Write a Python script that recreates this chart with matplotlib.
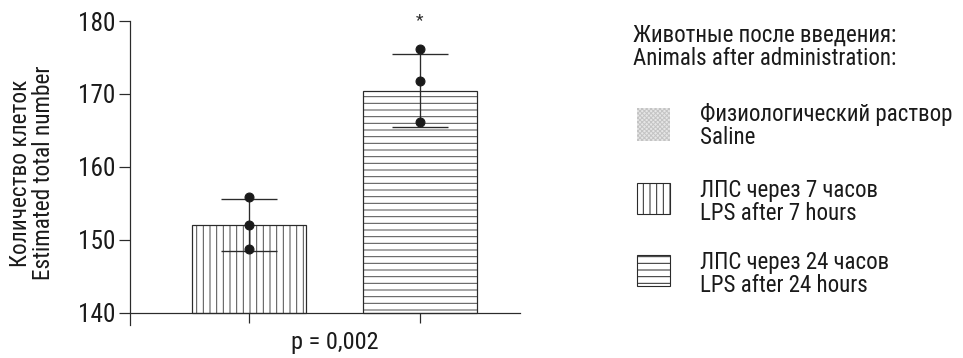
import numpy as np
import matplotlib
matplotlib.use('Agg')
import matplotlib.pyplot as plt
from matplotlib.patches import Rectangle
from matplotlib import font_manager
from matplotlib.font_manager import FontProperties
from matplotlib.textpath import TextPath

# ==============================================================================
# DATA
# ==============================================================================
means = [152.05, 170.45]
sds = [3.55, 5.0]
points_7h = [155.9, 152.0, 148.7]
points_24h = [176.2, 171.8, 166.1]
hatches = ['||', '--']

yticks = [140, 150, 160, 170, 180]

legend_title = 'Животные после введения:\nAnimals after administration:'
legend_labels = ['Физиологический раствор\nSaline',
                 'ЛПС через 7 часов\nLPS after 7 hours',
                 'ЛПС через 24 часов\nLPS after 24 hours']
legend_hatches = ['saline', '||', '--']

# ==============================================================================
# FONT: the original uses a narrow sans, take one if it is installed
# ==============================================================================
def pick_font():
    prefs = ['LiberationSansNarrow-Regular', 'RobotoCondensed-Regular',
             'DejaVuSansCondensed.ttf', 'OpenSans_Condensed-Regular',
             'OpenSansCondensed-Light']
    files = [f.fname for f in font_manager.fontManager.ttflist]
    for p in prefs:
        for fn in files:
            if p in fn:
                return FontProperties(fname=fn)
    return FontProperties(family='Liberation Sans')

base_fp = pick_font()
DPI = 80
W, H = 963, 358

def fp_for(text, target_px):
    # font size that gives the text the measured pixel width
    longest = max(text.split('\n'), key=len)
    w100 = TextPath((0, 0), longest, size=100, prop=base_fp).get_extents().width
    fp = base_fp.copy()
    fp.set_size(target_px / (w100 / 100 * DPI / 72))
    return fp

plt.rcParams['hatch.linewidth'] = 0.9
ink = '#2b2b2b'
txt = '#1a1a1a'

fig = plt.figure(figsize=(W / DPI, H / DPI), dpi=DPI)
# axes box in pixels: x 130..520, y 21..325 (from top)
ax = fig.add_axes([130 / W, 1 - 325 / H, 390 / W, 304 / H])

xpos = [1, 2]
for x, m, h in zip(xpos, means, hatches):
    ax.bar(x, m - 140, bottom=140, width=0.667, facecolor='white',
           edgecolor='#505050', linewidth=0, hatch=h, zorder=1.5)
    ax.bar(x, m - 140, bottom=140, width=0.667, facecolor='none',
           edgecolor=ink, linewidth=1.1, zorder=2)

ax.errorbar(xpos, means, yerr=sds, fmt='none', ecolor=ink, elinewidth=1.2,
            capsize=25, capthick=1.2, zorder=3)
for x, pts in zip(xpos, [points_7h, points_24h]):
    ax.plot([x] * len(pts), pts, 'o', color=txt, markersize=8, zorder=4)

ax.text(2, 180.1, '*', ha='center', va='center', fontproperties=fp_for('*', 7),
        color=ink)

ax.set_xlim(0.304, 2.585)
ax.set_ylim(140 - 12 / 7.3, 180)
ax.set_yticks(yticks)
ax.set_xticks(xpos)
ax.set_xticklabels(['', ''])
ax.spines['top'].set_visible(False)
ax.spines['right'].set_visible(False)
ax.spines['bottom'].set_position(('data', 140))
for s in ['left', 'bottom']:
    ax.spines[s].set_color(ink)
    ax.spines[s].set_linewidth(1.1)
ax.tick_params(axis='y', length=10, width=1.1, color=ink, pad=3.5)
ax.tick_params(axis='x', length=9, width=1.1, color=ink)
tick_fp = fp_for('180', 34)
for lab in ax.get_yticklabels():
    lab.set_fontproperties(tick_fp)
    lab.set_color(txt)

ax.set_ylabel('Количество клеток\nEstimated total number',
              fontproperties=fp_for('Estimated total number', 212),
              color=txt, linespacing=1.0)
# label anchor is its right-hand edge once rotated
ax.yaxis.set_label_coords((55 - 130) / 390, 0.5)

ax.text(1.5, (325 - 343) / 304, 'p = 0,002', transform=ax.get_xaxis_transform(),
        ha='center', va='center', fontproperties=fp_for('p = 0,002', 85),
        color=txt)

# legend drawn by hand in figure pixels
leg_fp = fp_for('Физиологический раствор', 251)
fig.text(633 / W, 1 - 47 / H, legend_title, ha='left', va='center',
         fontproperties=leg_fp, color=txt, linespacing=1.0)
patch_centers = [125, 199, 271]
text_centers = [126, 202, 274]
for lab, h, yp, yt in zip(legend_labels, legend_hatches, patch_centers, text_centers):
    if h == 'saline':
        fig.add_artist(Rectangle((637 / W, 1 - (yp + 16) / H), 33 / W, 33 / H,
                                 transform=fig.transFigure, facecolor='#e6e6e6',
                                 edgecolor='none', linewidth=0))
        fig.add_artist(Rectangle((637 / W, 1 - (yp + 16) / H), 33 / W, 33 / H,
                                 transform=fig.transFigure, facecolor='none',
                                 edgecolor='#c4c4c4', hatch='xxxxxx', linewidth=0))
    else:
        fig.add_artist(Rectangle((637 / W, 1 - (yp + 15) / H), 33 / W, 31 / H,
                                 transform=fig.transFigure, facecolor='white',
                                 edgecolor=ink, hatch=h, linewidth=1.0))
    fig.text(700 / W, 1 - yt / H, lab, ha='left', va='center',
             fontproperties=leg_fp, color=txt, linespacing=1.0)

fig.savefig('out.png', dpi=DPI)
